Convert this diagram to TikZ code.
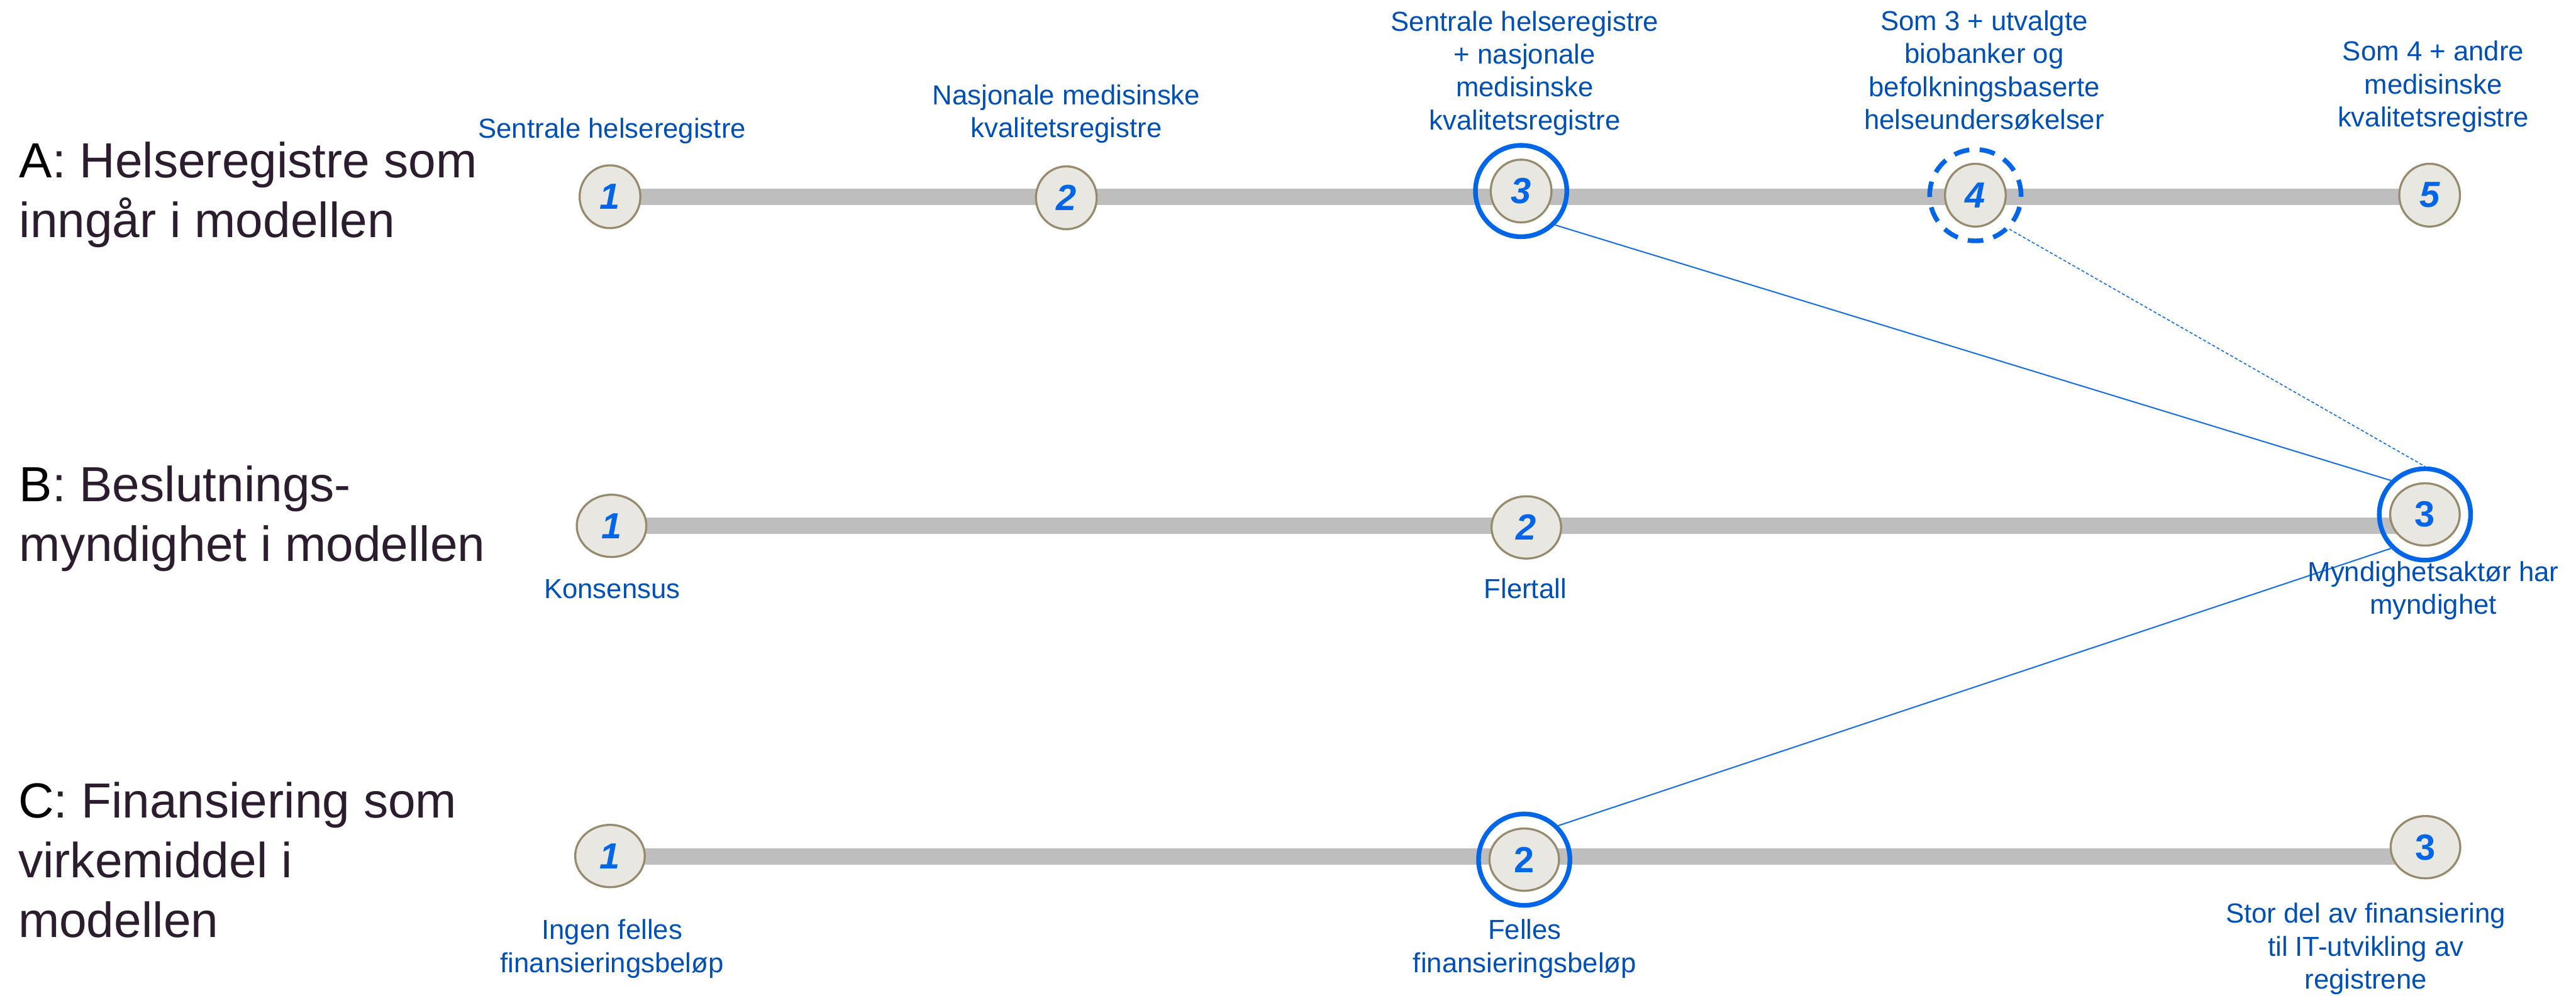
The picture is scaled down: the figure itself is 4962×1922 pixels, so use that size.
\documentclass[tikz,border=0pt]{standalone}
\usepackage{fontspec}
\setmainfont{Liberation Sans}
\usetikzlibrary{shapes.geometric,backgrounds}

\definecolor{bargray}{HTML}{BEBEBE}
\definecolor{nodefill}{HTML}{E8E7E2}
\definecolor{nodeedge}{HTML}{978B6D}
\definecolor{digitblue}{HTML}{0066E6}
\definecolor{ringblue}{HTML}{0066E6}
\definecolor{linkblue}{HTML}{1A6FE0}
\definecolor{labelblue}{HTML}{0050B4}
\definecolor{headdark}{HTML}{2B1D2D}

\begin{document}
\begin{tikzpicture}[x=1pt,y=-1pt,
  stopA/.style={ellipse, draw=nodeedge, line width=4pt, fill=nodefill,
    minimum width=117pt, minimum height=121pt, inner sep=0pt,
    text=digitblue, font=\fontsize{70}{70}\selectfont\bfseries\itshape},
  stopBC/.style={stopA, minimum width=134pt, minimum height=120pt},
  upright/.style={font=\fontsize{70}{70}\selectfont\bfseries},
  ring/.style={circle, draw=ringblue, line width=9pt, minimum size=176pt, inner sep=0pt},
  dashring/.style={ring, dash pattern=on 30pt off 20pt},
  track/.style={draw=bargray, line width=31pt},
  link/.style={draw=linkblue, line width=2.5pt},
  dotlink/.style={draw=linkblue, line width=2pt, dash pattern=on 6pt off 4pt},
  note/.style={text=labelblue, align=center, anchor=base, inner sep=0pt,
    font=\fontsize{53}{63.5}\selectfont},
  rowhead/.style={text=headdark, align=left, anchor=base west, inner sep=0pt,
    font=\fontsize{95}{115}\selectfont}
]
\useasboundingbox (0,0) rectangle (4962,1922);

% row headings (anchored on the baseline of their last line)
\node[rowhead] (hA) at (37,457) {\textcolor{black}{A}: Helseregistre som\\inngår i modellen};
\node[rowhead] (hB) at (37,1081) {\textcolor{black}{B}: Beslutnings-\\myndighet i modellen};
\node[rowhead] (hC) at (35,1805) {\textcolor{black}{C}: Finansiering som\\virkemiddel i\\modellen};

% row A: registers
\node[stopA] (A1) at (1175,379) {1};
\node[stopA] (A2) at (2054,381) {2};
\node[stopA] (A3) at (2930,368) {3};
\node[stopA] (A4) at (3805,376) {4};
\node[stopA] (A5) at (4680,376) {5};
\node[ring] (A3r) at (A3.center) {};
\node[dashring] (A4r) at (A4.center) {};

% row B: decision authority
\node[stopBC] (B1) at (1178,1013) {1};
\node[stopBC] (B2) at (2940,1016) {2};
\node[stopBC, upright] (B3) at (4671,991) {3};
\node[ring] (B3r) at (B3.center) {};

% row C: financing
\node[stopBC] (C1) at (1175,1649) {1};
\node[stopBC, upright] (C2) at (2936,1656) {2};
\node[stopBC, upright] (C3) at (4672,1632) {3};
\node[ring] (C2r) at (C2.center) {};

% grey tracks behind the stops
\begin{scope}[on background layer]
  \draw[track] (A1.center) -- (A1.center -| A5.center);
  \draw[track] (B1.center) -- (B1.center -| B3.center);
  \draw[track] ([yshift=-1pt]C1.center) -- ([yshift=-1pt]C1.center -| C3.center);
\end{scope}

% links between the chosen options
\draw[link] (A3r.south east) -- (B3r.north west);
\draw[dotlink] (A4r.south east) -- (B3r.north);
\draw[link] (C2r.north east) -- (B3r.south west);

% option texts (anchored on the baseline of their last line)
\node[note] (tA1) at (1179,266) {Sentrale helseregistre};
\node[note] (tA2) at (2054,265) {Nasjonale medisinske\\kvalitetsregistre};
\node[note] (tA3) at (2937,250) {Sentrale helseregistre\\+ nasjonale\\medisinske\\kvalitetsregistre};
\node[note] (tA4) at (3822,249) {Som 3 + utvalgte\\biobanker og\\befolkningsbaserte\\helseundersøkelser};
\node[note] (tA5) at (4687,244) {Som 4 + andre\\medisinske\\kvalitetsregistre};

\node[note] (tB1) at (1179,1153) {Konsensus};
\node[note] (tB2) at (2938,1153) {Flertall};
\node[note] (tB3) at (4687,1183) {Myndighetsaktør har\\myndighet};

\node[note] (tC1) at (1179,1873) {Ingen felles\\finansieringsbeløp};
\node[note] (tC2) at (2937,1873) {Felles\\finansieringsbeløp};
\node[note] (tC3) at (4557,1905) {Stor del av finansiering\\til IT-utvikling av\\registrene};
\end{tikzpicture}
\end{document}
